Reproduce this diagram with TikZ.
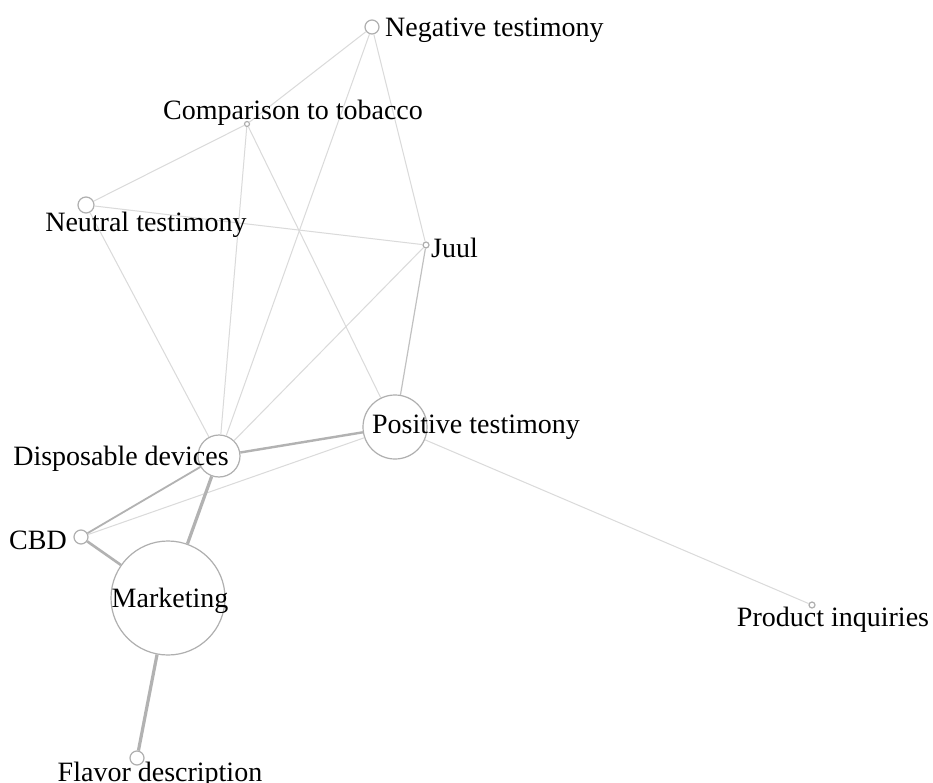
\documentclass[tikz,border=0pt]{standalone}
\usepackage{fontspec}
\setmainfont{Liberation Serif}
\definecolor{nodegray}{RGB}{175,175,175}
\definecolor{edgelight}{RGB}{218,218,218}
\definecolor{edgemid}{RGB}{178,178,178}
\begin{document}
\begin{tikzpicture}[x=1pt,y=-1pt,
    topic/.style={circle,draw=nodegray,fill=white,line width=1.2pt,inner sep=0pt,minimum size=#1},
    tag/.style={inner sep=0pt,font=\fontsize{28}{30}\selectfont},
    weak/.style={draw=edgelight,line width=1pt},
    mid/.style={draw=edgemid,line width=1.8pt},
    strong/.style={draw=edgemid,line width=3.2pt}]
    \useasboundingbox[fill=white] (0,0) rectangle (933,783);

    \node[topic=14pt] (neg) at (372,27) {};
    \node[topic=5pt] (cmp) at (247,124) {};
    \node[topic=16pt] (neu) at (86,205) {};
    \node[topic=6pt] (juul) at (426,245) {};
    \node[topic=64pt] (pos) at (395,427) {};
    \node[topic=42pt] (disp) at (219,456) {};
    \node[topic=14pt] (cbd) at (81,537) {};
    \node[topic=114pt] (mkt) at (168,598) {};
    \node[topic=14pt] (flav) at (137,758) {};
    \node[topic=6pt] (prod) at (812,605) {};

    \draw[weak] (neg) to (cmp);
    \draw[weak] (neg) to (disp);
    \draw[weak] (neg) to (juul);
    \draw[weak] (cmp) to (neu);
    \draw[weak] (cmp) to (disp);
    \draw[weak] (cmp) to (pos);
    \draw[weak] (neu) to (juul);
    \draw[weak] (neu) to (disp);
    \draw[weak] (juul) to (disp);
    \draw[weak] (cbd) to (pos);
    \draw[weak] (pos) to (prod);
    \draw[mid,draw=edgemid!80!white,line width=1.2pt] (juul) to (pos);
    \draw[mid,line width=2.4pt] (disp) to (pos);
    \draw[mid] (cbd) to (disp);
    \draw[mid,line width=2.6pt] (cbd) to (mkt);
    \draw[strong] (disp) to (mkt);
    \draw[strong] (mkt) to (flav);

    \node[tag,anchor=west] (negL) at (385,30) {Negative testimony};
    \node[tag] (cmpL) at (293,113) {Comparison to tobacco};
    \node[tag] (neuL) at (146,225) {Neutral testimony};
    \node[tag,anchor=west] (juulL) at (431,248) {Juul};
    \node[tag] (posL) at (476,427) {Positive testimony};
    \node[tag] (dispL) at (121,459) {Disposable devices};
    \node[tag,anchor=east] (cbdL) at (67,540) {CBD};
    \node[tag] (mktL) at (170,601) {Marketing};
    \node[tag] (flavL) at (160,775) {Flavor description};
    \node[tag] (prodL) at (833,620) {Product inquiries};
\end{tikzpicture}
\end{document}
